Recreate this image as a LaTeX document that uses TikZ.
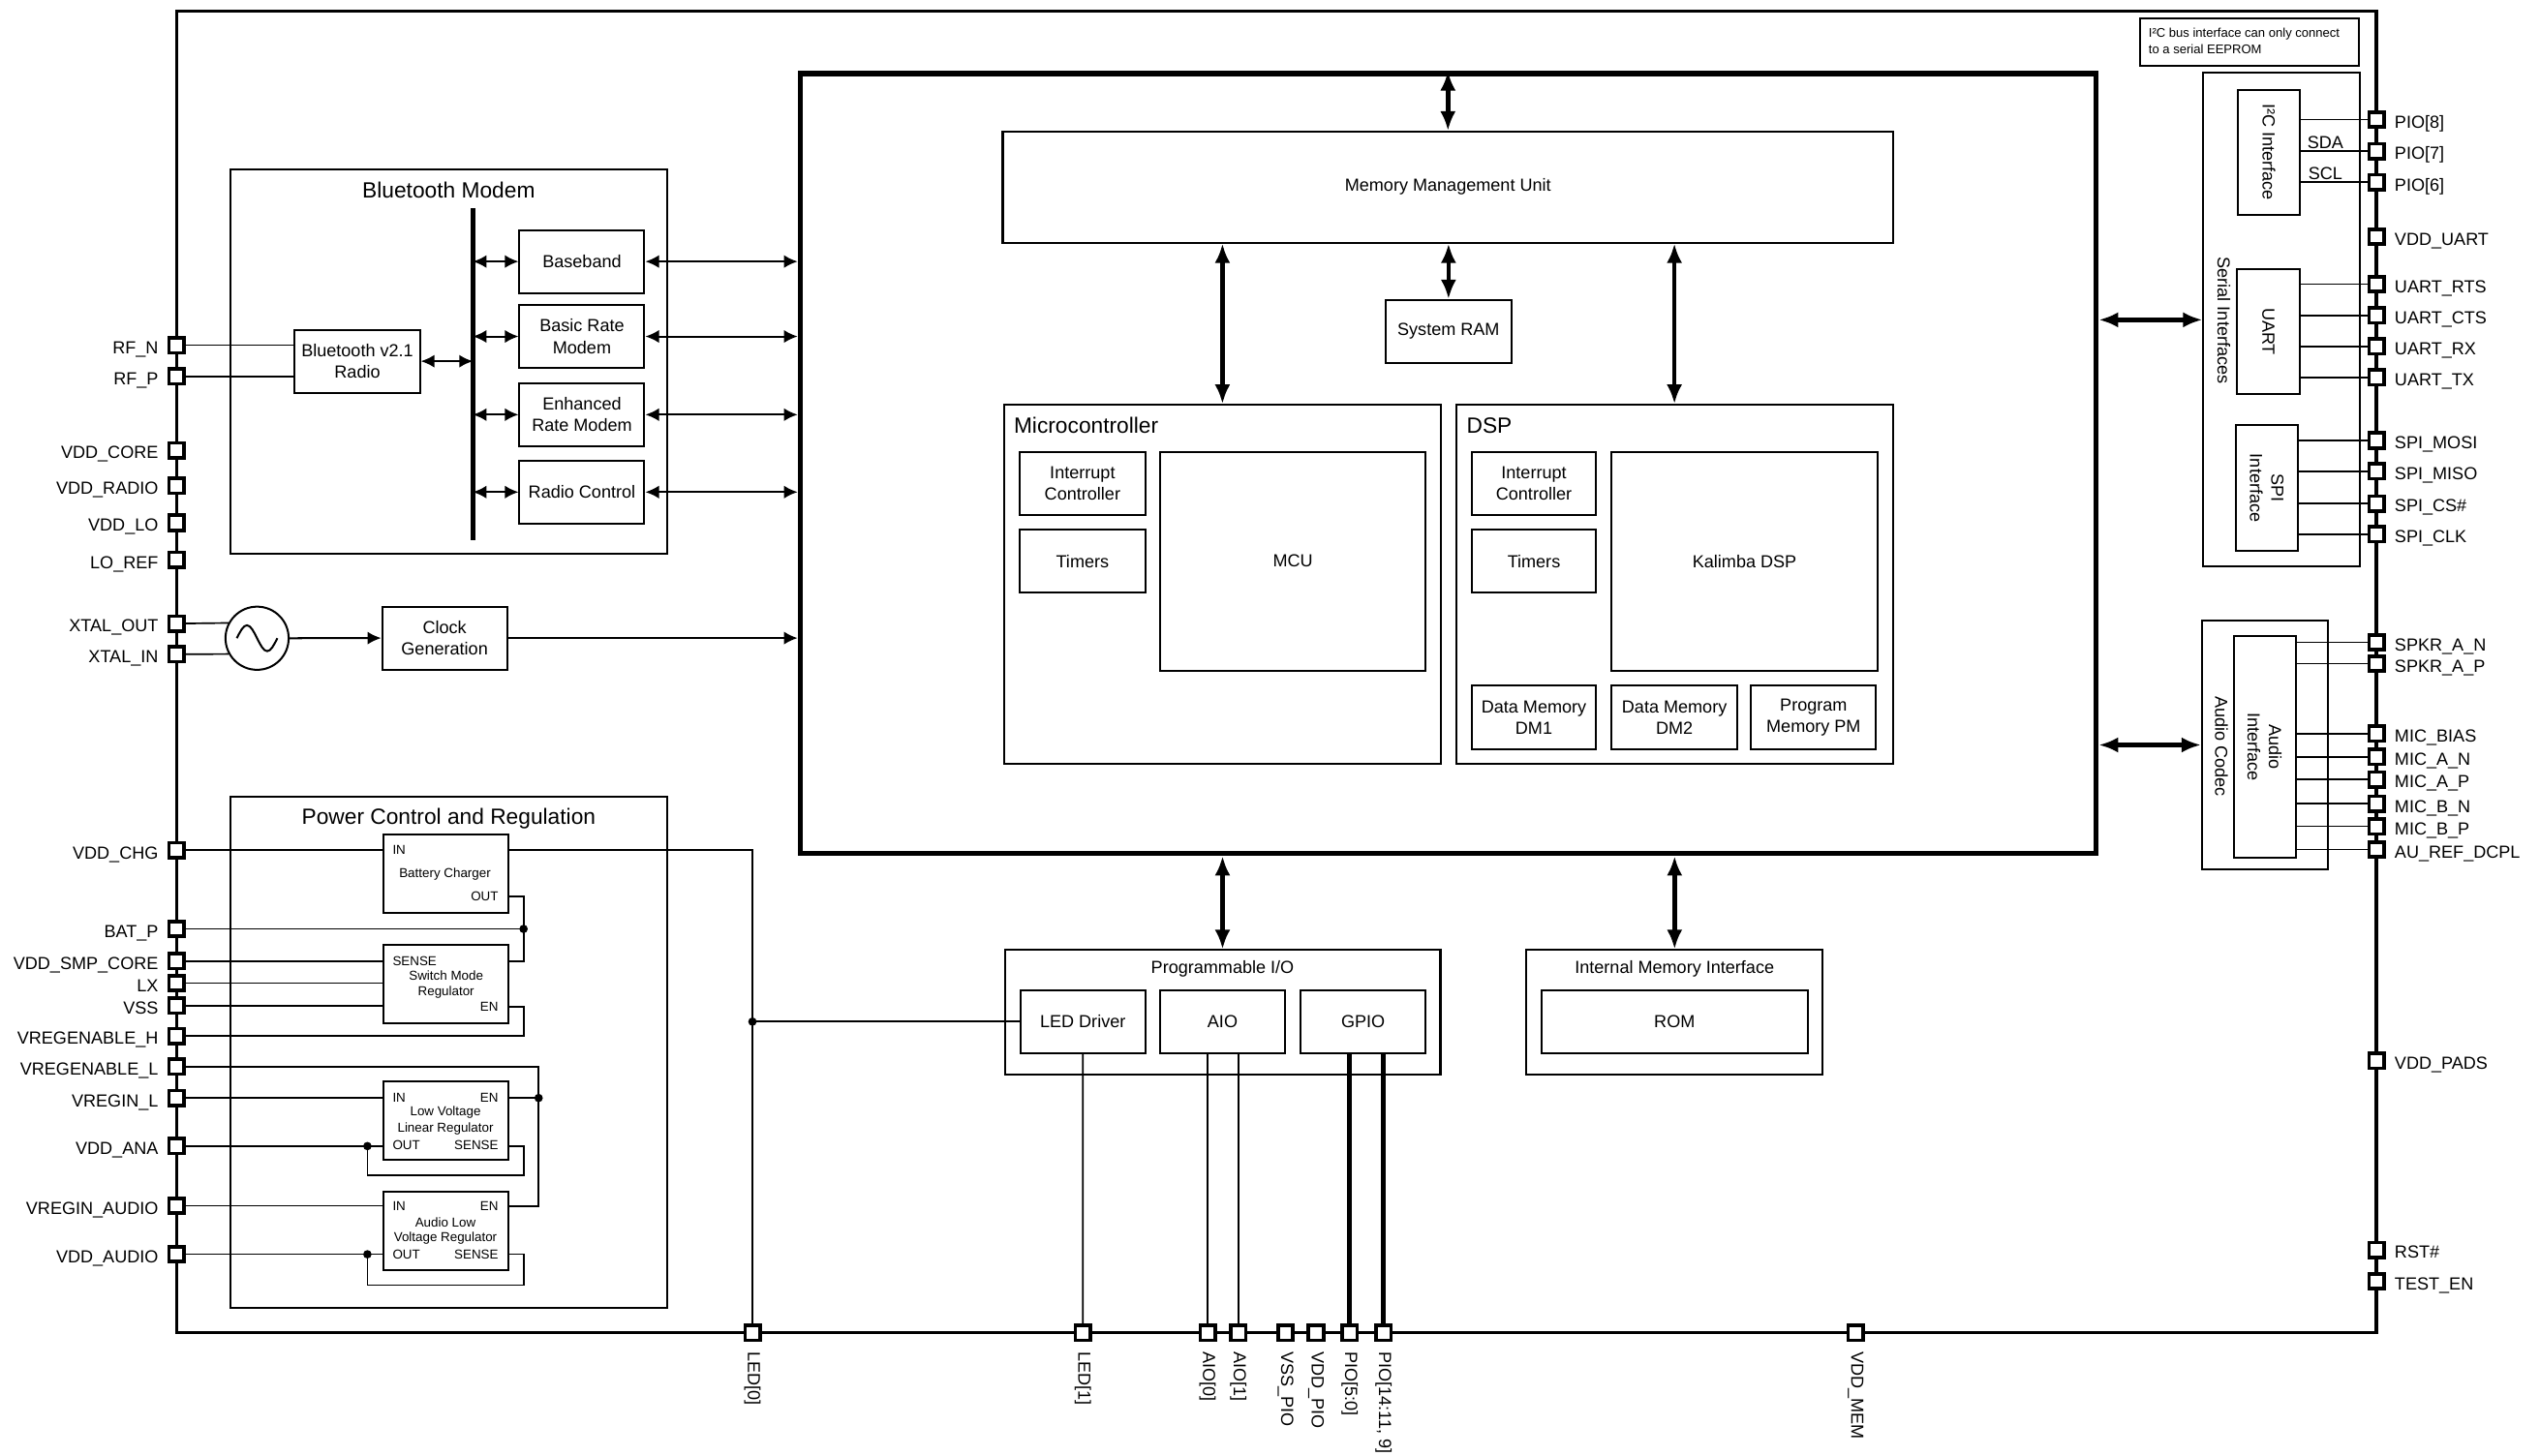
\documentclass[tikz,border=0pt]{standalone}
\usepackage{fontspec}
\setmainfont{Liberation Sans}
\usetikzlibrary{arrows.meta,fit,calc}
\newcommand\fA{\fontsize{5.4pt}{6.6pt}\selectfont}
\newcommand\fT{\fontsize{6.8pt}{8pt}\selectfont}
\newcommand\fS{\fontsize{4pt}{5pt}\selectfont}
\newcommand\fN{\fontsize{3.9pt}{4.9pt}\selectfont}
\begin{document}
\begin{tikzpicture}[x=0.5pt,y=-0.5pt,
  blk/.style={draw,line width=0.6pt,inner sep=0pt},
  pinsq/.style={draw,line width=1.1pt,fill=white,minimum size=4.6pt,inner sep=0pt},
  lbl/.style={inner sep=0pt,font=\fA,align=center},
  pinL/.style={pinsq,label={[lbl,anchor=mid east,label distance=2.6pt]left:{#1}}},
  pinR/.style={pinsq,label={[lbl,anchor=mid west,label distance=2.6pt]right:{#1}}},
  wire/.style={line width=0.5pt},
  thickwire/.style={line width=1.5pt},
  bigarr/.style={line width=1.4pt,{Latex[length=6pt,width=4.8pt]}-{Latex[length=6pt,width=4.8pt]}},
  smarr/.style={line width=0.6pt,{Latex[length=4.2pt,width=4pt]}-{Latex[length=4.2pt,width=4pt]}},
  onearr/.style={line width=0.6pt,-{Latex[length=4.2pt,width=4pt]}},
  sm/.style={inner sep=0pt,font=\fS},
  ttl/.style={inner sep=0pt,font=\fT},
]
\useasboundingbox (0,0) rectangle (1568,899);

% ---------- outer chip and CPU ----------
\node[draw,line width=1pt,inner sep=0pt,fit={(109,7)(1467,823)}] (chip) {};
\node[draw,line width=1.6pt,inner sep=0pt,fit={(494,45.5)(1294,527)}] (cpu) {};

% ---------- Bluetooth modem ----------
\node[blk,fit={(142.5,104.6)(412,341.7)}] (btm) {};
\node[ttl] (btmT) at (277,117.6) {Bluetooth Modem};
\node[blk,fit={(182,203.6)(259.2,242.5)}] (radio) {};
\node[lbl] (radioT) at (radio.center) {Bluetooth v2.1\\Radio};
\node[blk,fit={(320.7,142)(397.8,181)}] (bb) {};
\node[lbl] (bbT) at (bb.center) {Baseband};
\node[blk,fit={(320.7,188.3)(397.8,227.2)}] (brm) {};
\node[lbl] (brmT) at (brm.center) {Basic Rate\\Modem};
\node[blk,fit={(320.7,236.7)(397.8,275.4)}] (erm) {};
\node[lbl] (ermT) at (erm.center) {Enhanced\\Rate Modem};
\node[blk,fit={(320.7,284.5)(397.8,323.2)}] (rc) {};
\node[lbl] (rcT) at (rc.center) {Radio Control};
\coordinate (busT) at (291.9,128.5);
\coordinate (busB) at (291.9,333.6);
\draw[line width=1.6pt] (busT) -- (busB);
\foreach \b in {bb,brm,erm,rc}{
  \draw[smarr] (busT |- \b.west) -- (\b.west);
  \draw[smarr] (\b.east) -- (\b.east -| cpu.west);
}
\draw[smarr] (radio.east) -- (radio.east -| busT);

% ---------- clock ----------
\node[circle,draw,line width=0.6pt,minimum size=19.5pt,inner sep=0pt] (osc) at (158.7,394.1) {};
\draw[line width=0.6pt] ($(osc.center)+(-12.5,0)$) sin ++(6.25,-8) cos ++(6.25,8) sin ++(6.25,8) cos ++(6.25,-8);
\node[blk,fit={(235.9,374.6)(313,413.4)}] (clk) {};
\node[lbl] (clkT) at (clk.center) {Clock\\Generation};
\draw[onearr] (osc.east) -- (clk.west);
\draw[onearr] (clk.east) -- (clk.east -| cpu.west);

% ---------- power control ----------
\node[blk,fit={(142.5,492)(412,807.6)}] (pwr) {};
\node[ttl] (pwrT) at (277,505.5) {Power Control and Regulation};
\node[blk,fit={(236.5,515.5)(313.6,564)}] (chg) {};
\node[blk,fit={(236.5,583.6)(313.6,631.8)}] (smr) {};
\node[blk,fit={(236.5,668)(313.6,716.2)}] (lv) {};
\node[blk,fit={(236.5,736)(313.6,784.5)}] (alv) {};
\node[sm,anchor=west] (chgIN) at (242,525) {IN};
\node[sm] (chgT) at (274.7,539.7) {Battery Charger};
\node[sm,anchor=east] (chgOUT) at (308,553.6) {OUT};
\node[sm,anchor=west] (smrS) at (242,593.5) {SENSE};
\node[sm] (smrT1) at (275.4,602.5) {Switch Mode};
\node[sm] (smrT2) at (275.4,612.7) {Regulator};
\node[sm,anchor=east] (smrEN) at (308,621.7) {EN};
\node[sm,anchor=west] (lvIN) at (242,678) {IN};
\node[sm,anchor=east] (lvEN) at (308,678) {EN};
\node[sm] (lvT1) at (275,687) {Low Voltage};
\node[sm] (lvT2) at (275,697) {Linear Regulator};
\node[sm,anchor=west] (lvOUT) at (242,707.2) {OUT};
\node[sm,anchor=east] (lvS) at (308,707.2) {SENSE};
\node[sm,anchor=west] (alvIN) at (242,744.6) {IN};
\node[sm,anchor=east] (alvEN) at (308,745) {EN};
\node[sm] (alvT1) at (275,755) {Audio Low};
\node[sm] (alvT2) at (275,764.5) {Voltage Regulator};
\node[sm,anchor=west] (alvOUT) at (242,774.5) {OUT};
\node[sm,anchor=east] (alvS) at (308,774.5) {SENSE};

% ---------- CPU contents ----------
\node[blk,fit={(619,81.3)(1168.7,149.8)}] (mmu) {};
\node[lbl] (mmuT) at (mmu.center) {Memory Management Unit};
\node[blk,fit={(855.4,185.3)(933,224.2)}] (ram) {};
\node[lbl] (ramT) at (ram.center) {System RAM};
\node[blk,fit={(619.9,250)(889.4,471.8)}] (mcb) {};
\node[ttl,anchor=west] (mcbT) at (625.5,262.6) {Microcontroller};
\node[blk,fit={(629.4,279)(707.1,317.8)}] (mic) {};
\node[lbl] (micT) at (mic.center) {Interrupt\\Controller};
\node[blk,fit={(629.4,327.2)(707.1,366)}] (mtm) {};
\node[lbl] (mtmT) at (mtm.center) {Timers};
\node[blk,fit={(716.3,279)(879.9,414)}] (mcu) {};
\node[lbl] (mcuT) at (mcu.center) {MCU};
\node[blk,fit={(898.9,250)(1168.4,471.8)}] (dsp) {};
\node[ttl,anchor=west] (dspT) at (905,262.6) {DSP};
\node[blk,fit={(908.4,279)(985.4,317.8)}] (dic) {};
\node[lbl] (dicT) at (dic.center) {Interrupt\\Controller};
\node[blk,fit={(908.4,327.2)(985.4,366)}] (dtm) {};
\node[lbl] (dtmT) at (dtm.center) {Timers};
\node[blk,fit={(995,279)(1158.9,414)}] (kal) {};
\node[lbl] (kalT) at (kal.center) {Kalimba DSP};
\node[blk,fit={(908.4,423.4)(985.4,462.7)}] (dm1) {};
\node[lbl] (dm1T) at (dm1.center) {Data Memory\\DM1};
\node[blk,fit={(995,423.4)(1072.3,462.7)}] (dm2) {};
\node[lbl] (dm2T) at (dm2.center) {Data Memory\\DM2};
\node[blk,fit={(1081,423.4)(1158.1,462.7)}] (pm) {};
\node[lbl] (pmT) at (pm.center) {Program\\Memory PM};
\draw[bigarr] (mmu.north |- cpu.north) -- (mmu.north);
\draw[bigarr] (ram.north |- mmu.south) -- (ram.north);
\draw[bigarr] (mcb.north |- mmu.south) -- (mcb.north);
\draw[bigarr] (dsp.north |- mmu.south) -- (dsp.north);

% ---------- programmable I/O and memory interface ----------
\node[blk,fit={(620.2,586.7)(889.2,663.7)}] (pio) {};
\node[lbl] (pioT) at (754.7,598.2) {Programmable I/O};
\node[blk,fit={(630,611.5)(706.9,650.2)}] (led) {};
\node[lbl] (ledT) at (led.center) {LED Driver};
\node[blk,fit={(716.3,611.5)(793.1,650.2)}] (aio) {};
\node[lbl] (aioT) at (aio.center) {AIO};
\node[blk,fit={(803,611.5)(879.9,650.2)}] (gpio) {};
\node[lbl] (gpioT) at (gpio.center) {GPIO};
\node[blk,fit={(942.3,586.7)(1125.2,663.7)}] (imi) {};
\node[lbl] (imiT) at (1033.7,598.2) {Internal Memory Interface};
\node[blk,fit={(951.7,611.5)(1115.8,650.2)}] (rom) {};
\node[lbl] (romT) at (rom.center) {ROM};
\draw[bigarr] (pio.north |- cpu.south) -- (pio.north);
\draw[bigarr] (imi.north |- cpu.south) -- (imi.north);

% ---------- right side blocks ----------
\node[blk,fit={(1321,11.4)(1456,40.5)}] (note) {};
\node[inner sep=0pt,font=\fN,anchor=base west] (noteA) at (1326,23.2) {I²C bus interface can only connect};
\node[inner sep=0pt,font=\fN,anchor=base west] (noteB) at (1326,33) {to a serial EEPROM};
\node[blk,fit={(1360.2,45)(1456.5,350)}] (ser) {};
\node[lbl,rotate=-90] (serT) at (1372.8,197.9) {Serial Interfaces};
\node[blk,fit={(1381.2,55.4)(1420,132.7)}] (i2c) {};
\node[lbl,rotate=-90] (i2cT) at (i2c.center) {I²C Interface};
\node[blk,fit={(1380.8,166.3)(1419.8,243.2)}] (uart) {};
\node[lbl,rotate=-90] (uartT) at (uart.center) {UART};
\node[blk,fit={(1380,262.6)(1418.7,340.1)}] (spi) {};
\node[lbl,rotate=-90] (spiT) at (spi.center) {SPI\\Interface};
\node[blk,fit={(1359.3,383)(1437,537)}] (cod) {};
\node[lbl,rotate=-90] (codT) at (1371.4,460.8) {Audio Codec};
\node[blk,fit={(1378.8,392.8)(1417.2,529.4)}] (aif) {};
\node[lbl,rotate=-90] (aifT) at (aif.center) {Audio\\Interface};
\draw[bigarr] (ser.west -| cpu.east) -- (ser.west);
\draw[bigarr] (cod.west -| cpu.east) -- (cod.west);

% ---------- left pins ----------
\node[pinL={RF\_N}] (pRFN) at (109,213.2) {};
\node[pinL={RF\_P}] (pRFP) at (109,232.5) {};
\node[pinL={VDD\_CORE}] (pVC) at (109,278) {};
\node[pinL={VDD\_RADIO}] (pVR) at (109,299.9) {};
\node[pinL={VDD\_LO}] (pVLO) at (109,322.8) {};
\node[pinL={LO\_REF}] (pLOR) at (109,345.7) {};
\node[pinL={XTAL\_OUT}] (pXO) at (109,385) {};
\node[pinL={XTAL\_IN}] (pXI) at (109,404) {};
\node[pinL={VDD\_CHG}] (pVCHG) at (109,525) {};
\node[pinL={BAT\_P}] (pBAT) at (109,573.6) {};
\node[pinL={VDD\_SMP\_CORE}] (pSMP) at (109,593.5) {};
\node[pinL={LX}] (pLX) at (109,607) {};
\node[pinL={VSS}] (pVSS) at (109,621) {};
\node[pinL={VREGENABLE\_H}] (pVH) at (109,639.7) {};
\node[pinL={VREGENABLE\_L}] (pVL) at (109,658.6) {};
\node[pinL={VREGIN\_L}] (pVRL) at (109,678) {};
\node[pinL={VDD\_ANA}] (pANA) at (109,707.7) {};
\node[pinL={VREGIN\_AUDIO}] (pVRA) at (109,744.6) {};
\node[pinL={VDD\_AUDIO}] (pVAU) at (109,774.5) {};

% ---------- right pins ----------
\node[pinR={PIO[8]}] (pP8) at (1467,73.8) {};
\node[pinR={PIO[7]}] (pP7) at (1467,93.3) {};
\node[pinR={PIO[6]}] (pP6) at (1467,112.5) {};
\node[pinR={VDD\_UART}] (pVU) at (1467,146.2) {};
\node[pinR={UART\_RTS}] (pRTS) at (1467,175.5) {};
\node[pinR={UART\_CTS}] (pCTS) at (1467,194.7) {};
\node[pinR={UART\_RX}] (pRX) at (1467,213.9) {};
\node[pinR={UART\_TX}] (pTX) at (1467,233.1) {};
\node[pinR={SPI\_MOSI}] (pMOSI) at (1467,272) {};
\node[pinR={SPI\_MISO}] (pMISO) at (1467,291) {};
\node[pinR={SPI\_CS\#}] (pCS) at (1467,310.9) {};
\node[pinR={SPI\_CLK}] (pCLK) at (1467,329.9) {};
\node[pinR={SPKR\_A\_N}] (pSAN) at (1467,396.6) {};
\node[pinR={SPKR\_A\_P}] (pSAP) at (1467,409.7) {};
\node[pinR={MIC\_BIAS}] (pMB) at (1467,453) {};
\node[pinR={MIC\_A\_N}] (pMAN) at (1467,467.3) {};
\node[pinR={MIC\_A\_P}] (pMAP) at (1467,481.3) {};
\node[pinR={MIC\_B\_N}] (pMBN) at (1467,496.3) {};
\node[pinR={MIC\_B\_P}] (pMBP) at (1467,510.3) {};
\node[pinR={AU\_REF\_DCPL}] (pAU) at (1467,524.6) {};
\node[pinR={VDD\_PADS}] (pVP) at (1467,655) {};
\node[pinR={RST\#}] (pRST) at (1467,771.8) {};
\node[pinR={TEST\_EN}] (pTE) at (1467,791.1) {};

% ---------- bottom pins ----------
\node[pinsq] (pLED0) at (464.5,823) {};
\node[pinsq] (pLED1) at (668.5,823) {};
\node[pinsq] (pAIO0) at (745.5,823) {};
\node[pinsq] (pAIO1) at (764.4,823) {};
\node[pinsq] (pVSP) at (793.6,823) {};
\node[pinsq] (pVDP) at (812.4,823) {};
\node[pinsq] (pP50) at (833.2,823) {};
\node[pinsq] (pP14) at (854.1,823) {};
\node[pinsq] (pVM) at (1145.5,823) {};
\foreach \n/\t in {pLED0/{LED[0]},pLED1/{LED[1]},pAIO0/{AIO[0]},pAIO1/{AIO[1]},
  pVSP/{VSS\_PIO},pVDP/{VDD\_PIO},pP50/{PIO[5:0]},pP14/{PIO[14:11, 9]},pVM/{VDD\_MEM}}{
  \node[lbl,rotate=-90,anchor=west] (l\n) at ($(\n.south)+(0,5.5)$) {\t};
}

% ---------- wires: left ----------
\draw[wire] (pRFN.east) -- (pRFN -| radio.west);
\draw[wire] (pRFP.east) -- (pRFP -| radio.west);
\draw[wire] (pXO.east) -- (osc.152);
\draw[wire] (pXI.east) -- (osc.209);

\coordinate (jx) at (323.2,0);
\coordinate (jy) at (332.5,0);
\coordinate (jd) at (226.8,0);
\coordinate (lvLoop) at (0,725.7);
\coordinate (alvLoop) at (0,793.5);

\draw[wire] (pVCHG.east) -- (pVCHG -| chg.west);
\draw[wire] (chg.east |- pVCHG) -- (pLED0 |- pVCHG) -- (pLED0.north);
\draw[wire] (led.west) -- (led.west -| pLED0);
\fill (led.west -| pLED0) circle[radius=1.3pt];
\draw[wire] (chg.east |- chgOUT) -- (chgOUT -| jx) -- (pSMP -| jx) -- (pSMP -| smr.east);
\draw[wire] (pBAT.east) -- (pBAT -| jx);
\fill (pBAT -| jx) circle[radius=1.3pt];
\draw[wire] (pSMP.east) -- (pSMP -| smr.west);
\draw[wire] (pLX.east) -- (pLX -| smr.west);
\draw[wire] (pVSS.east) -- (pVSS -| smr.west);
\draw[wire] (pVH.east) -- (pVH -| jx) -- (smrEN -| jx) -- (smrEN -| smr.east);
\draw[wire] (pVL.east) -- (pVL -| jy) -- (alvEN -| jy) -- (alvEN -| alv.east);
\draw[wire] (lvEN -| lv.east) -- (lvEN -| jy);
\fill (lvEN -| jy) circle[radius=1.3pt];
\draw[wire] (pVRL.east) -- (pVRL -| lv.west);
\draw[wire] (pANA.east) -- (pANA -| lv.west);
\draw[wire] (pANA -| jd) -- (lvLoop -| jd) -- (lvLoop -| jx) -- (pANA -| jx) -- (pANA -| lv.east);
\fill (pANA -| jd) circle[radius=1.3pt];
\draw[wire] (pVRA.east) -- (pVRA -| alv.west);
\draw[wire] (pVAU.east) -- (pVAU -| alv.west);
\draw[wire] (pVAU -| jd) -- (alvLoop -| jd) -- (alvLoop -| jx) -- (pVAU -| jx) -- (pVAU -| alv.east);
\fill (pVAU -| jd) circle[radius=1.3pt];

% ---------- wires: bottom ----------
\draw[wire] (led.south) -- (pLED1.north);
\draw[wire] (pAIO0.north) -- (pAIO0 |- aio.south);
\draw[wire] (pAIO1.north) -- (pAIO1 |- aio.south);
\draw[thickwire] (pP50.north) -- (pP50 |- gpio.south);
\draw[thickwire] (pP14.north) -- (pP14 |- gpio.south);

% ---------- wires: right ----------
\foreach \p in {pP8,pP7,pP6}{\draw[wire] (\p.west) -- (\p -| i2c.east);}
\node[lbl] (sda) at (1435.5,88) {SDA};
\node[lbl] (scl) at (1435.5,107) {SCL};
\foreach \p in {pRTS,pCTS,pRX,pTX}{\draw[wire] (\p.west) -- (\p -| uart.east);}
\foreach \p in {pMOSI,pMISO,pCS,pCLK}{\draw[wire] (\p.west) -- (\p -| spi.east);}
\foreach \p in {pSAN,pSAP,pMB,pMAN,pMAP,pMBN,pMBP,pAU}{\draw[wire] (\p.west) -- (\p -| aif.east);}

\end{tikzpicture}
\end{document}
